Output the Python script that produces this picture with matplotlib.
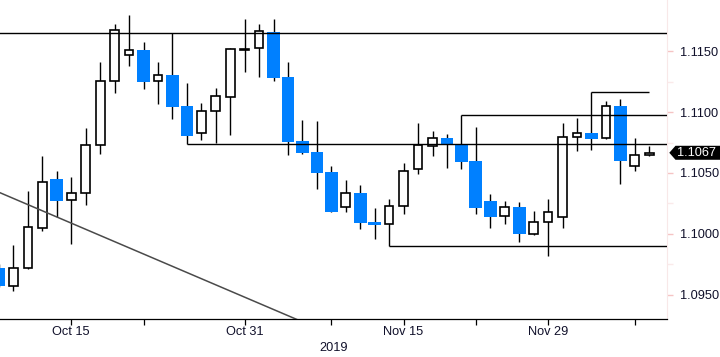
import matplotlib
matplotlib.use("Agg")
import matplotlib.pyplot as plt
import matplotlib.transforms as mtransforms
from matplotlib.patches import Rectangle, Polygon
import numpy as np

plt.rcParams['font.family'] = ['Liberation Sans', 'DejaVu Sans']

dates = ["2019-10-08", "2019-10-09", "2019-10-10", "2019-10-11", "2019-10-14", "2019-10-15",
         "2019-10-16", "2019-10-17", "2019-10-18", "2019-10-21", "2019-10-22", "2019-10-23",
         "2019-10-24", "2019-10-25", "2019-10-28", "2019-10-29", "2019-10-30", "2019-10-31",
         "2019-11-01", "2019-11-04", "2019-11-05", "2019-11-06", "2019-11-07", "2019-11-08",
         "2019-11-11", "2019-11-12", "2019-11-13", "2019-11-14", "2019-11-15", "2019-11-18",
         "2019-11-19", "2019-11-20", "2019-11-21", "2019-11-22", "2019-11-25", "2019-11-26",
         "2019-11-27", "2019-11-28", "2019-11-29", "2019-12-02", "2019-12-03", "2019-12-04",
         "2019-12-05", "2019-12-06", "2019-12-09", "2019-12-10"]
opens = [1.09718, 1.09572, 1.09715, 1.10049, 1.10450, 1.10275, 1.10332, 1.10727, 1.11253, 1.11467,
         1.11511, 1.11256, 1.11305, 1.11050, 1.10826, 1.11007, 1.11127, 1.11515, 1.11525, 1.11656,
         1.11289, 1.10762, 1.10672, 1.10507, 1.10217, 1.10335, 1.10096, 1.10077, 1.10225, 1.10530,
         1.10724, 1.10787, 1.10735, 1.10600, 1.10269, 1.10143, 1.10220, 1.09995, 1.10094, 1.10135,
         1.10793, 1.10828, 1.10785, 1.11050, 1.10554, 1.10645]
highs = [1.09750, 1.09907, 1.10351, 1.10639, 1.10516, 1.10466, 1.10869, 1.11412, 1.11725, 1.11798,
         1.11576, 1.11412, 1.11648, 1.11239, 1.11075, 1.11198, 1.11527, 1.11766, 1.11725, 1.11766,
         1.11412, 1.10935, 1.10927, 1.10557, 1.10442, 1.10401, 1.10211, 1.10285, 1.10581, 1.10910,
         1.10845, 1.10820, 1.10976, 1.10877, 1.10326, 1.10269, 1.10261, 1.10187, 1.10285, 1.10910,
         1.10951, 1.11163, 1.11091, 1.11105, 1.10785, 1.10719]
lows = [1.09560, 1.09531, 1.09712, 1.10025, 1.10140, 1.09918, 1.10238, 1.10658, 1.11160, 1.11382,
        1.11192, 1.11069, 1.10941, 1.10735, 1.10773, 1.10748, 1.10814, 1.11332, 1.11291, 1.11258,
        1.10650, 1.10658, 1.10370, 1.10180, 1.10181, 1.10041, 1.09959, 1.09896, 1.10164, 1.10493,
        1.10641, 1.10543, 1.10535, 1.10164, 1.10049, 1.10082, 1.09934, 1.09990, 1.09819, 1.10044,
        1.10678, 1.10688, 1.10780, 1.10411, 1.10518, 1.10640]
closes = [1.09572, 1.09715, 1.10053, 1.10423, 1.10269, 1.10332, 1.10727, 1.11256, 1.11673, 1.11508,
          1.11250, 1.11303, 1.11044, 1.10806, 1.11007, 1.11130, 1.11516, 1.11521, 1.11664, 1.11283,
          1.10757, 1.10666, 1.10502, 1.10181, 1.10332, 1.10090, 1.10074, 1.10225, 1.10513, 1.10729,
          1.10785, 1.10735, 1.10592, 1.10214, 1.10140, 1.10217, 1.09995, 1.10094, 1.10181, 1.10793,
          1.10826, 1.10781, 1.11048, 1.10600, 1.10645, 1.10666]

label_dates = ["2019-10-15", "2019-10-31", "2019-11-15", "2019-11-29"]
label_texts = ["Oct 15", "Oct 31", "Nov 15", "Nov 29"]
minor_dates = ["2019-10-22", "2019-11-08", "2019-11-22", "2019-12-09"]
y_ticks = [1.0950, 1.1000, 1.1050, 1.1100, 1.1150]
y_minor = [1.0975, 1.1025, 1.1075, 1.1125]
year_label = "2019"

# horizontal levels: (price, start date, end date or None)
levels = [(1.11648, None, None),
          (1.10735, "2019-10-25", None),
          (1.10976, "2019-11-21", None),
          (1.09896, "2019-11-14", None),
          (1.11163, "2019-12-04", "2019-12-10")]
trend_pts = [("2019-10-08", 1.10341), ("2019-11-06", 1.09276)]
last_price = closes[-1]

idx = {d: i for i, d in enumerate(dates)}
x = np.arange(len(dates))

fig = plt.figure(figsize=(7.2, 3.57), dpi=100)
ax = fig.add_axes([0.0, 0.1056, 667.3 / 720, 0.8944])
XMIN, XMAX = 0.066, 46.25
ax.set_xlim(XMIN, XMAX)
ax.set_ylim(1.09297, 1.11922)

blue = '#0080ff'
for i in range(len(dates)):
    o, h, l, c = opens[i], highs[i], lows[i], closes[i]
    ax.vlines(x[i], l, h, color='black', lw=1.0, zorder=2)
    if c >= o:
        ax.add_patch(Rectangle((x[i] - 0.3, o), 0.6, c - o, facecolor='white',
                               edgecolor='black', lw=1.2, zorder=3))
    else:
        ax.add_patch(Rectangle((x[i] - 0.44, c), 0.88, o - c, facecolor=blue,
                               edgecolor='none', lw=0, zorder=3))

for price, s, e in levels:
    x0 = XMIN - 1 if s is None else idx[s]
    x1 = XMAX + 1 if e is None else idx[e] - 0.04
    ax.hlines(price, x0, x1, color='black', lw=1.0, zorder=4)

ax.plot([idx[trend_pts[0][0]], idx[trend_pts[1][0]]], [trend_pts[0][1], trend_pts[1][1]],
        color='#4a4a4a', lw=1.1, zorder=4)

for s in ['left', 'top']:
    ax.spines[s].set_visible(False)
ax.spines['bottom'].set_linewidth(0.9)
ax.spines['right'].set_color('#f8e8e8')
ax.spines['right'].set_linewidth(0.8)

ax.set_xticks([idx[d] for d in label_dates])
ax.set_xticklabels(label_texts)
ax.set_xticks([idx[d] for d in minor_dates], minor=True)
ax.tick_params(axis='x', which='both', direction='out', length=4, width=0.9,
               colors='black', labelcolor='#10102a', labelsize=9.2, pad=1)
ax.set_xlabel(year_label, fontsize=9.2, color='#10102a', labelpad=3)

ax.yaxis.tick_right()
ax.set_yticks(y_ticks)
ax.set_yticklabels([f"{v:.4f}" for v in y_ticks])
ax.set_yticks(y_minor, minor=True)
ax.tick_params(axis='y', which='major', direction='out', length=4, width=1.0,
               colors='#f5c4c4', labelcolor='#10102a', labelsize=9.2, pad=5)
ax.tick_params(axis='y', which='minor', direction='out', length=4, width=1.0,
               colors='#faeaea')

# current price label
trans = mtransforms.blended_transform_factory(fig.transFigure, ax.transData)
yp = last_price
h_px = 7.0
dp = (ax.get_ylim()[1] - ax.get_ylim()[0]) / (357 * 0.8944)
poly = Polygon([(669.3 / 720, yp), (675.5 / 720, yp + h_px * dp), (1.0, yp + h_px * dp),
                (1.0, yp - h_px * dp), (675.5 / 720, yp - h_px * dp)], closed=True,
               facecolor='black', edgecolor='none', transform=trans, clip_on=False, zorder=10)
fig.patches.append(poly)
fig.text(676.5 / 720, 0, f"{last_price:.4f}", transform=trans, color='white', fontsize=9.2,
         va='center', ha='left', zorder=11)
fig.texts[-1].set_y(yp)

fig.savefig("out.png", dpi=100, facecolor='white')
